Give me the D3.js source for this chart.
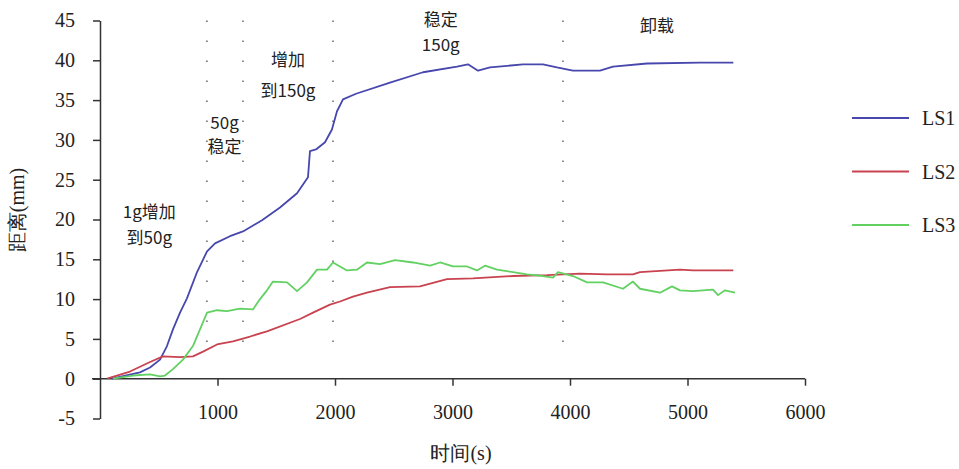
<!DOCTYPE html>
<html>
<head>
<meta charset="utf-8">
<script src="https://cdn.jsdelivr.net/npm/d3@7"></script>
<style>
  body { margin: 0; background: #fff; }
  #canvas { width: 959px; height: 469px; }
</style>
</head>
<body>
<div id="canvas"></div>
<script>
// time (s) / distance (mm)
const ls1T = [100, 340, 426, 511, 570, 621, 681, 740, 826, 911, 979, 1106, 1217, 1379, 1532, 1677, 1770, 1787, 1838, 1915, 1974, 2017, 2068, 2179, 2468, 2749, 3038, 3132, 3217, 3319, 3600, 3770, 3889, 4025, 4255, 4366, 4655, 5106, 5390];
const ls1V = [0, 0.8, 1.4, 2.4, 4.1, 6.2, 8.3, 10.1, 13.4, 16.0, 17.0, 17.9, 18.5, 19.9, 21.5, 23.3, 25.3, 28.6, 28.8, 29.7, 31.3, 33.6, 35.1, 35.8, 37.2, 38.5, 39.2, 39.5, 38.7, 39.1, 39.5, 39.5, 39.1, 38.7, 38.7, 39.2, 39.6, 39.7, 39.7];

const ls2T = [60, 255, 426, 536, 681, 791, 877, 996, 1132, 1277, 1421, 1702, 1813, 1957, 2043, 2153, 2272, 2468, 2723, 2953, 3174, 3515, 3804, 4085, 4315, 4536, 4596, 4936, 5047, 5390];
const ls2V = [0, 0.9, 2.1, 2.8, 2.7, 2.8, 3.4, 4.3, 4.7, 5.3, 5.95, 7.5, 8.3, 9.3, 9.7, 10.3, 10.8, 11.5, 11.6, 12.5, 12.6, 12.9, 13.0, 13.2, 13.1, 13.1, 13.4, 13.7, 13.6, 13.6];

const ls3T = [110, 281, 426, 511, 553, 621, 706, 791, 851, 911, 996, 1081, 1191, 1302, 1362, 1421, 1472, 1592, 1677, 1762, 1847, 1932, 1983, 2102, 2187, 2272, 2383, 2511, 2664, 2809, 2894, 3004, 3123, 3208, 3277, 3379, 3515, 3634, 3770, 3855, 3898, 4025, 4145, 4281, 4451, 4536, 4596, 4766, 4868, 4936, 5047, 5217, 5260, 5319, 5404];
const ls3V = [0, 0.4, 0.54, 0.3, 0.4, 1.2, 2.4, 4.1, 6.2, 8.3, 8.6, 8.5, 8.8, 8.7, 10.0, 11.1, 12.2, 12.1, 11.0, 12.1, 13.7, 13.7, 14.6, 13.6, 13.7, 14.6, 14.4, 14.9, 14.6, 14.2, 14.6, 14.1, 14.1, 13.6, 14.2, 13.7, 13.4, 13.1, 12.9, 12.7, 13.4, 12.9, 12.1, 12.1, 11.3, 12.2, 11.3, 10.8, 11.6, 11.1, 11.0, 11.2, 10.5, 11.1, 10.8];

const seriesNames = ["LS1", "LS2", "LS3"];
const xTicks = [1000, 2000, 3000, 4000, 5000, 6000];
const yTicks = [-5, 0, 5, 10, 15, 20, 25, 30, 35, 40, 45];
const phaseTimes = [910, 1217, 1983, 3940];
const phaseLabels = [["1g增加", "到50g"], ["50g", "稳定"], ["增加", "到150g"], ["稳定", "150g"], ["卸载"]];

const width = 959;
const height = 469;
const colors = ["#4747ad", "#c9424f", "#62d162"];
const serif = "Liberation Serif";
const cjk = "Noto Sans CJK SC";

const svg = d3.select("#canvas").append("svg")
  .attr("width", width)
  .attr("height", height);

const x = d3.scaleLinear().domain([0, 6000]).range([100, 805]);
const y = d3.scaleLinear().domain([-5, 45]).range([418.5, 20.5]);

// phase separators
svg.selectAll(".phase").data(phaseTimes).enter().append("line")
  .attr("x1", d => x(d)).attr("x2", d => x(d))
  .attr("y1", y(45)).attr("y2", y(3.3))
  .attr("stroke", "#666")
  .attr("stroke-width", 1.5)
  .attr("stroke-dasharray", "1.5 18.5");

const yAxis = svg.append("g")
  .attr("transform", `translate(${x(0)},0)`)
  .call(d3.axisLeft(y).tickValues(yTicks).tickFormat(d => String(d))
    .tickSize(7).tickSizeOuter(0).tickPadding(18));

const xAxis = svg.append("g")
  .attr("transform", `translate(0,${y(0)})`)
  .call(d3.axisBottom(x).tickValues(xTicks).tickFormat(d => String(d))
    .tickSize(7).tickSizeOuter(0).tickPadding(19));

[xAxis, yAxis].forEach(a => {
  a.selectAll("path, line").attr("stroke", "#333").attr("stroke-width", 1.5);
  a.selectAll("text")
    .style("font-family", serif)
    .style("font-size", "20px")
    .attr("fill", "#222");
});
xAxis.select(".domain").attr("d", `M92,0H${x(6000)}`);

// curves
const series = [
  ls1T.map((t, i) => [t, ls1V[i]]),
  ls2T.map((t, i) => [t, ls2V[i]]),
  ls3T.map((t, i) => [t, ls3V[i]])
];
const line = d3.line().x(d => x(d[0])).y(d => y(d[1]));

svg.selectAll(".curve").data(series).enter().append("path")
  .attr("d", line)
  .attr("fill", "none")
  .attr("stroke", (d, i) => colors[i])
  .attr("stroke-width", 1.8)
  .attr("stroke-linejoin", "round");

// phase notes, anchored in data space
const notePos = [[420, 21.0, 26], [1060, 32.2, 24], [1600, 40.1, 31], [2900, 45.1, 25], [4740, 44.3, 0]];
phaseLabels.forEach((lines, i) => {
  const p = notePos[i];
  lines.forEach((s, j) => {
    svg.append("text")
      .attr("x", x(p[0]))
      .attr("y", y(p[1]) + j * p[2])
      .attr("dy", "0.36em")
      .attr("text-anchor", "middle")
      .style("font-family", cjk)
      .style("font-size", "17px")
      .attr("fill", "#222")
      .text(s);
  });
});

// axis titles
svg.append("text")
  .attr("x", 461).attr("y", 460)
  .attr("text-anchor", "middle")
  .style("font-family", serif)
  .style("font-size", "20px")
  .attr("fill", "#222")
  .text("时间(s)");

svg.append("text")
  .attr("transform", "translate(24,210) rotate(-90)")
  .attr("text-anchor", "middle")
  .style("font-family", serif)
  .style("font-size", "20px")
  .attr("fill", "#222")
  .text("距离(mm)");

// legend
const legend = svg.selectAll(".legend").data(seriesNames).enter().append("g")
  .attr("transform", (d, i) => `translate(852,${118 + i * 53.5})`);
legend.append("line")
  .attr("x1", 0).attr("x2", 57)
  .attr("stroke", (d, i) => colors[i])
  .attr("stroke-width", 1.8);
legend.append("text")
  .attr("x", 70).attr("dy", "0.35em")
  .style("font-family", serif)
  .style("font-size", "20px")
  .attr("fill", "#222")
  .text(d => d);
</script>
</body>
</html>
